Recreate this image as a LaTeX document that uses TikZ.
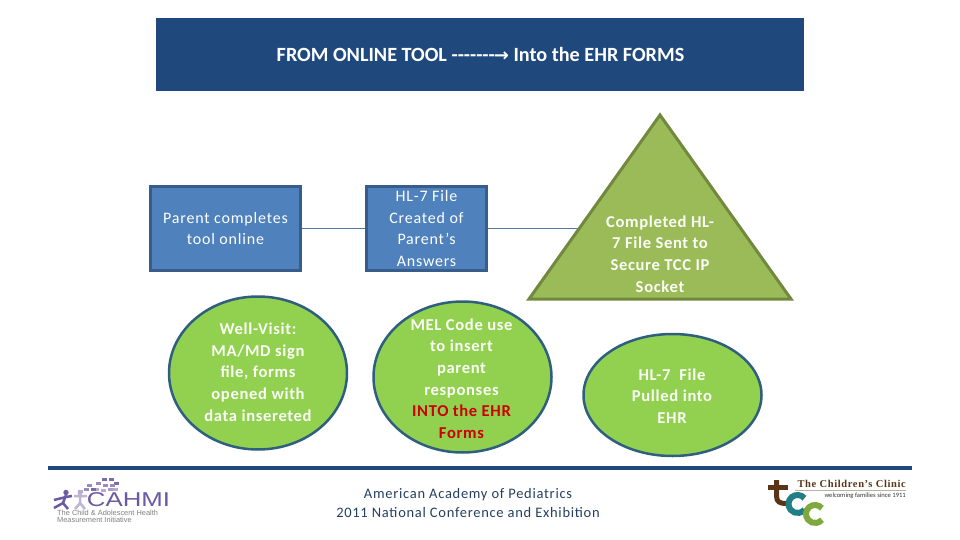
\documentclass[tikz,border=0pt]{standalone}
\usepackage{fontspec}
\setmainfont{Carlito}
\newfontfamily\spacedfont[LetterSpace=5]{Carlito}
\newfontfamily\spacedbold[LetterSpace=4]{Carlito Bold}
\newfontfamily\logosans{Liberation Sans}
\newfontfamily\logowide[FakeStretch=1.29]{Liberation Sans}
\newfontfamily\logoserif[LetterSpace=6]{Liberation Serif}
\newfontfamily\arrowfont{DejaVu Sans}
\usetikzlibrary{shapes.geometric}
\definecolor{headerblue}{HTML}{1F497D}
\definecolor{boxblue}{HTML}{4F81BD}
\definecolor{boxedge}{HTML}{385D8A}
\definecolor{ovalgreen}{HTML}{92D050}
\definecolor{ovaledge}{HTML}{2F5F7F}
\definecolor{triangle}{HTML}{9BBB59}
\definecolor{triangleedge}{HTML}{71893F}
\definecolor{footertext}{HTML}{243F60}
\definecolor{cahmipurple}{HTML}{6A5AA5}
\definecolor{tccbrown}{HTML}{5A3417}
\definecolor{tccteal}{HTML}{1F7F83}
\definecolor{tccgreen}{HTML}{7FA83E}
\tikzset{
    stepbox/.style={draw=boxedge, fill=boxblue, line width=3pt, minimum height=84pt},
    greenoval/.style={ellipse, draw=ovaledge, fill=ovalgreen, line width=2.5pt, minimum width=178pt},
    steptext/.style={text=white, align=center, inner sep=0pt, font=\spacedfont\fontsize{16}{21.7}\selectfont},
    boldtext/.style={text=white!95!ovalgreen, align=center, inner sep=0pt, font=\spacedbold\fontsize{16.6}{21.7}\selectfont},
    joinline/.style={-, line width=0.8pt, draw=boxedge!85!white},
}
\begin{document}
\begin{tikzpicture}[x=1pt,y=-1pt]
    \useasboundingbox (0,0) rectangle (960,540);
    % header
    \node[fill=headerblue, minimum width=648pt, minimum height=73pt, inner sep=0pt] (header) at (480,54.5) {};
    \node[text=white, inner sep=0pt, font=\bfseries\fontsize{20.2}{24}\selectfont] (headertext) at (480.5,54.5) {FROM ONLINE TOOL {-}{-}{-}{-}{-}{-}{-}\kern-1pt{\arrowfont\fontsize{18}{24}\selectfont→} Into the EHR FORMS};
    % top row
    \coordinate (triapex) at (660,115);
    \coordinate (trileft) at (529,299);
    \coordinate (triright) at (791,299);
    \coordinate (triedge) at (580,228.5);
    \node[stepbox, minimum width=150pt] (parentbox) at (225.5,228.5) {};
    \node[stepbox, minimum width=120pt] (hlbox) at (426.5,228.5) {};
    \draw[joinline] (parentbox) -- (hlbox);
    \draw[joinline] (hlbox) -- (triedge);
    \draw[fill=triangle, draw=triangleedge, line width=3pt, line join=miter] (triapex) -- (triright) -- (trileft) -- cycle;
    \node[steptext] (parenttext) at (225.5,228.5) {Parent completes\\tool online};
    \node[steptext] (hltext) at (426.5,228.5) {HL-7 File\\Created of\\Parent’s\\Answers};
    \node[boldtext] (tritext) at (660,254) {Completed HL-\\7 File Sent to\\Secure TCC IP\\Socket};
    % bottom row
    \node[greenoval, minimum height=153pt] (visitoval) at (258,373) {};
    \node[greenoval, minimum height=151pt] (meloval) at (462.5,377) {};
    \node[greenoval, minimum height=122pt] (pulloval) at (672.5,395) {};
    \node[boldtext] (visittext) at (258,372) {Well-Visit:\\MA/MD sign\\file, forms\\opened with\\data insereted};
    \node[boldtext] (meltext) at (461.5,378.5) {MEL Code use\\to insert\\parent\\responses\\\textcolor{red!80!black}{INTO the EHR}\\\textcolor{red!80!black}{Forms}};
    \node[boldtext] (pulltext) at (672,396) {HL-7\ \ File\\Pulled into\\EHR};
    % footer
    \draw[headerblue, line width=4pt] (48,468) -- (912,468);
    \node[text=footertext, align=center, inner sep=0pt, font=\spacedfont\fontsize{14.5}{19}\selectfont] (footertext) at (468,503.5) {American Academy of Pediatrics\\2011 National Conference and Exhibition};
    % cahmi logo
    \node[text=cahmipurple, inner sep=0pt, font=\logowide\fontsize{20}{20}\selectfont] (cahmiword) at (128.5,500) {CAHMI};
    \node[text=gray, anchor=west, align=left, inner sep=0pt, font=\logosans\fontsize{7.4}{6.4}\selectfont] (cahmisub) at (57,516.5) {The Child \& Adolescent Health\\Measurement Initiative};
    \fill[cahmipurple] (66,492.5) circle (2.7);
    \draw[cahmipurple, line width=2.5pt] (66,495) -- (63,503) (66,497) -- (54,500) (66,497) -- (72,496) (63,503) -- (54,508) (63,503) -- (68,509);
    \fill[cahmipurple!45!white] (80,493) circle (2.5);
    \draw[cahmipurple!45!white, line width=2.5pt] (80,496) -- (80,503) (74,496) -- (87,496) (80,503) -- (75,509) (80,503) -- (85,509);
    \foreach \px/\py/\pshade in {102/478/90, 109/478/90, 114/482/90, 96/482/70, 103/484/70, 110/484/70, 94/488/50, 101/489/50, 108/488/60, 113/488/50, 87/484/70, 91/488/90, 84/488/70, 78/490/50}
        \fill[cahmipurple!\pshade!white] (\px,\py) rectangle ++(4.6,3.2);
    % tcc logo
    \draw[tccbrown, line width=5pt] (768,487) -- (788,487);
    \draw[tccbrown, line width=5pt] (776.5,480) -- (776.5,496) .. controls (776.5,502) and (780,503.5) .. (786,503.5);
    \draw[tccteal, line width=6pt] (804.4,498.2) arc[start angle=40, end angle=320, radius=9pt];
    \draw[tccgreen, line width=6pt] (821.9,508.2) arc[start angle=40, end angle=320, radius=9pt];
    \node[text=tccbrown, anchor=east, inner sep=0pt, font=\logoserif\bfseries\fontsize{10.5}{11}\selectfont] (tccname) at (906,484) {The Children’s Clinic};
    \draw[tccbrown!40!white, line width=0.5pt] (795,490.5) -- (906,490.5);
    \node[text=black!80!white, anchor=east, inner sep=0pt, font=\fontsize{6.6}{8}\selectfont] (tccsince) at (906,495.5) {welcoming families since 1911};
\end{tikzpicture}
\end{document}
